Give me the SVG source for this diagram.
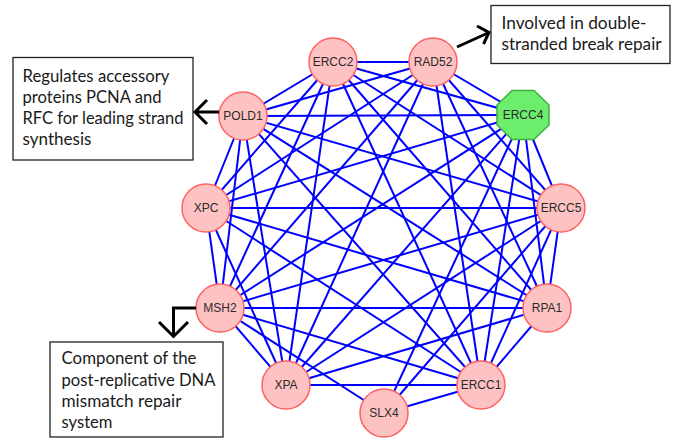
<svg xmlns="http://www.w3.org/2000/svg" width="678" height="442" viewBox="0 0 678 442">
  <style>
    .edge { stroke: #0000ff; stroke-width: 2; fill: none; }
    .node { fill: #ffc2c2; stroke: #ff6262; stroke-width: 1.5; }
    .query { fill: #6cee6c; stroke: #3fae3f; stroke-width: 1.5; }
    .lbl { font-family: "Liberation Sans", Arial, sans-serif; font-size: 12px; fill: #2a2a2a; text-anchor: middle; dominant-baseline: central; }
    .note-box { fill: #ffffff; stroke: #222222; stroke-width: 1.3; }
    .note { font-family: Lato, "Open Sans", sans-serif; font-size: 17px; fill: #1a1a1a; }
    .pointer { stroke: #000000; stroke-width: 3; fill: none; stroke-linecap: butt; stroke-linejoin: miter; }
  </style>
  <rect width="678" height="442" fill="#ffffff"/>

  <!-- interaction edges -->
  <g id="edges">
    <!-- XPA -->
    <line class="edge" x1="286" y1="385" x2="220" y2="308"/>
    <line class="edge" x1="286" y1="385" x2="206" y2="208"/>
    <line class="edge" x1="286" y1="385" x2="243" y2="116"/>
    <line class="edge" x1="286" y1="385" x2="333" y2="62"/>
    <line class="edge" x1="286" y1="385" x2="433" y2="62"/>
    <line class="edge" x1="286" y1="385" x2="523" y2="115"/>
    <line class="edge" x1="286" y1="385" x2="561" y2="208"/>
    <line class="edge" x1="286" y1="385" x2="547" y2="308"/>
    <line class="edge" x1="286" y1="385" x2="481" y2="385"/>
    <!-- MSH2 -->
    <line class="edge" x1="220" y1="308" x2="206" y2="208"/>
    <line class="edge" x1="220" y1="308" x2="243" y2="116"/>
    <line class="edge" x1="220" y1="308" x2="333" y2="62"/>
    <line class="edge" x1="220" y1="308" x2="433" y2="62"/>
    <line class="edge" x1="220" y1="308" x2="523" y2="115"/>
    <line class="edge" x1="220" y1="308" x2="561" y2="208"/>
    <line class="edge" x1="220" y1="308" x2="547" y2="308"/>
    <line class="edge" x1="220" y1="308" x2="481" y2="385"/>
    <line class="edge" x1="220" y1="308" x2="384" y2="413"/>
    <!-- XPC -->
    <line class="edge" x1="206" y1="208" x2="243" y2="116"/>
    <line class="edge" x1="206" y1="208" x2="333" y2="62"/>
    <line class="edge" x1="206" y1="208" x2="433" y2="62"/>
    <line class="edge" x1="206" y1="208" x2="523" y2="115"/>
    <line class="edge" x1="206" y1="208" x2="561" y2="208"/>
    <line class="edge" x1="206" y1="208" x2="547" y2="308"/>
    <line class="edge" x1="206" y1="208" x2="481" y2="385"/>
    <!-- POLD1 -->
    <line class="edge" x1="243" y1="116" x2="333" y2="62"/>
    <line class="edge" x1="243" y1="116" x2="433" y2="62"/>
    <line class="edge" x1="243" y1="116" x2="523" y2="115"/>
    <line class="edge" x1="243" y1="116" x2="561" y2="208"/>
    <line class="edge" x1="243" y1="116" x2="547" y2="308"/>
    <line class="edge" x1="243" y1="116" x2="481" y2="385"/>
    <!-- ERCC2 -->
    <line class="edge" x1="333" y1="62" x2="433" y2="62"/>
    <line class="edge" x1="333" y1="62" x2="523" y2="115"/>
    <line class="edge" x1="333" y1="62" x2="561" y2="208"/>
    <line class="edge" x1="333" y1="62" x2="547" y2="308"/>
    <line class="edge" x1="333" y1="62" x2="481" y2="385"/>
    <!-- RAD52 -->
    <line class="edge" x1="433" y1="62" x2="523" y2="115"/>
    <line class="edge" x1="433" y1="62" x2="561" y2="208"/>
    <line class="edge" x1="433" y1="62" x2="547" y2="308"/>
    <line class="edge" x1="433" y1="62" x2="481" y2="385"/>
    <!-- ERCC4 -->
    <line class="edge" x1="523" y1="115" x2="561" y2="208"/>
    <line class="edge" x1="523" y1="115" x2="547" y2="308"/>
    <line class="edge" x1="523" y1="115" x2="481" y2="385"/>
    <line class="edge" x1="523" y1="115" x2="384" y2="413"/>
    <!-- ERCC5 -->
    <line class="edge" x1="561" y1="208" x2="547" y2="308"/>
    <line class="edge" x1="561" y1="208" x2="481" y2="385"/>
    <line class="edge" x1="561" y1="208" x2="384" y2="413"/>
    <!-- RPA1 / ERCC1 -->
    <line class="edge" x1="547" y1="308" x2="481" y2="385"/>
    <line class="edge" x1="481" y1="385" x2="384" y2="413"/>
  </g>

  <!-- gene nodes -->
  <g id="node-ERCC2"><circle class="node" cx="333" cy="62" r="24"/><text class="lbl" x="333" y="62">ERCC2</text></g>
  <g id="node-RAD52"><circle class="node" cx="433" cy="62" r="24"/><text class="lbl" x="433" y="62">RAD52</text></g>
  <g id="node-ERCC4"><polygon class="query" points="512,90.5 534,90.5 549,105 549,125 534,139.5 512,139.5 497,125 497,105"/><text class="lbl" x="523" y="115">ERCC4</text></g>
  <g id="node-ERCC5"><circle class="node" cx="561" cy="208" r="24"/><text class="lbl" x="561" y="208">ERCC5</text></g>
  <g id="node-RPA1"><circle class="node" cx="547" cy="308" r="24"/><text class="lbl" x="547" y="308">RPA1</text></g>
  <g id="node-ERCC1"><circle class="node" cx="481" cy="385" r="24"/><text class="lbl" x="481" y="385">ERCC1</text></g>
  <g id="node-SLX4"><circle class="node" cx="384" cy="413" r="24"/><text class="lbl" x="384" y="413">SLX4</text></g>
  <g id="node-XPA"><circle class="node" cx="286" cy="385" r="24"/><text class="lbl" x="286" y="385">XPA</text></g>
  <g id="node-MSH2"><circle class="node" cx="220" cy="308" r="24"/><text class="lbl" x="220" y="308">MSH2</text></g>
  <g id="node-XPC"><circle class="node" cx="206" cy="208" r="24"/><text class="lbl" x="206" y="208">XPC</text></g>
  <g id="node-POLD1"><circle class="node" cx="243" cy="116" r="24"/><text class="lbl" x="243" y="116">POLD1</text></g>

  <!-- callout: POLD1 -->
  <g id="note-POLD1">
    <rect class="note-box" x="13" y="57.5" width="180" height="102.5"/>
    <text class="note" x="22.5" y="81.5" textLength="147" lengthAdjust="spacingAndGlyphs">Regulates accessory</text>
    <text class="note" x="22.5" y="103" textLength="139" lengthAdjust="spacingAndGlyphs">proteins PCNA and</text>
    <text class="note" x="22.5" y="124" textLength="161" lengthAdjust="spacingAndGlyphs">RFC for leading strand</text>
    <text class="note" x="22.5" y="145" textLength="69" lengthAdjust="spacingAndGlyphs">synthesis</text>
    <path class="pointer" d="M219,112 H195 M207,100 L195,112 L207,124"/>
  </g>

  <!-- callout: RAD52 -->
  <g id="note-RAD52">
    <rect class="note-box" x="491" y="5.5" width="179" height="58"/>
    <text class="note" x="501.5" y="28.5" textLength="145" lengthAdjust="spacingAndGlyphs">Involved in double-</text>
    <text class="note" x="501.5" y="50" textLength="160" lengthAdjust="spacingAndGlyphs">stranded break repair</text>
    <path class="pointer" d="M457,47 L489,32.5 M477,26 L489,32.5 L483.5,44"/>
  </g>

  <!-- callout: MSH2 -->
  <g id="note-MSH2">
    <rect class="note-box" x="50" y="342" width="173" height="95"/>
    <text class="note" x="61.5" y="364" textLength="135" lengthAdjust="spacingAndGlyphs">Component of the</text>
    <text class="note" x="61.5" y="385.5" textLength="154" lengthAdjust="spacingAndGlyphs">post-replicative DNA</text>
    <text class="note" x="61.5" y="406.5" textLength="120" lengthAdjust="spacingAndGlyphs">mismatch repair</text>
    <text class="note" x="61.5" y="428" textLength="51" lengthAdjust="spacingAndGlyphs">system</text>
    <path class="pointer" d="M196,308 H173.5 V336 M159,322 L173.5,336.5 L188,322"/>
  </g>
</svg>
